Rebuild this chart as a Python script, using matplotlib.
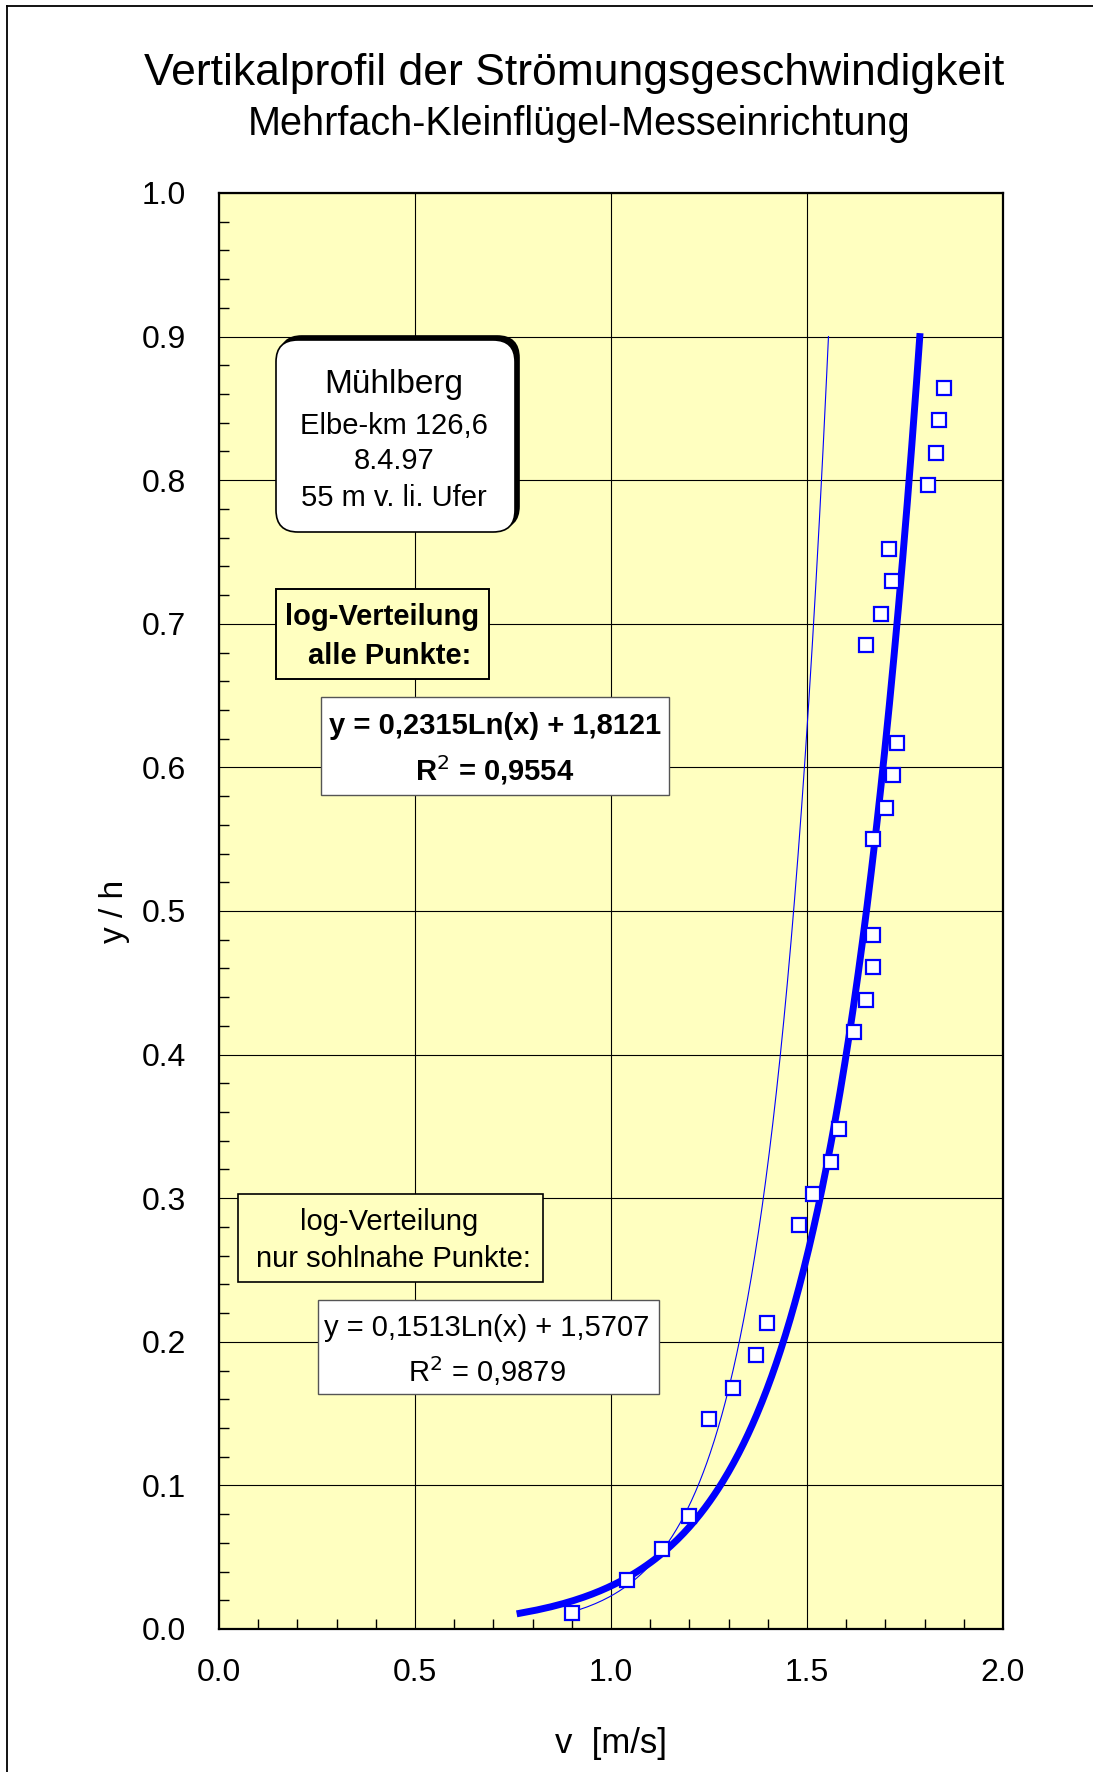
import numpy as np
import matplotlib
import matplotlib.pyplot as plt
from matplotlib.patches import Rectangle, FancyBboxPatch
from matplotlib.lines import Line2D
from matplotlib.ticker import MultipleLocator, FormatStrFormatter

matplotlib.use('Agg')
plt.rcParams['font.family'] = ['Liberation Sans', 'DejaVu Sans']

# measured points: velocity v [m/s] and relative height y/h
v_meas = [0.900, 1.041, 1.129, 1.200, 1.250, 1.310, 1.370, 1.399,
          1.480, 1.516, 1.561, 1.582, 1.620, 1.650, 1.669, 1.669,
          1.669, 1.702, 1.719, 1.730, 1.650, 1.690, 1.718, 1.709,
          1.809, 1.828, 1.838, 1.849]
yh_meas = [0.011, 0.034, 0.056, 0.079, 0.146, 0.168, 0.191, 0.213,
           0.281, 0.303, 0.325, 0.348, 0.416, 0.438, 0.461, 0.483,
           0.550, 0.572, 0.595, 0.617, 0.685, 0.707, 0.730, 0.752,
           0.797, 0.819, 0.842, 0.864]

# log fits as printed in the chart: v = a*ln(y/h) + b
fit_all = (0.2315, 1.8121)
fit_near = (0.1513, 1.5707)
fit_range = (0.011, 0.9)

title = "Vertikalprofil der Strömungsgeschwindigkeit"
subtitle = "Mehrfach-Kleinflügel-Messeinrichtung"
site_lines = ["Mühlberg", "Elbe-km 126,6", "8.4.97", "55 m v. li. Ufer"]

W, H = 1093, 1772
fig = plt.figure(figsize=(W / 100, H / 100), dpi=100)


def fx(px):
    return px / W


def fy(py):
    return 1 - py / H


ax = fig.add_axes([fx(219), fy(1629), fx(1003) - fx(219), (1629 - 193) / H])
ax.set_facecolor('#FFFFC0')
ax.set_xlim(0, 2.0)
ax.set_ylim(0, 1.0)

ax.xaxis.set_major_locator(MultipleLocator(0.5))
ax.xaxis.set_minor_locator(MultipleLocator(0.1))
ax.yaxis.set_major_locator(MultipleLocator(0.1))
ax.yaxis.set_minor_locator(MultipleLocator(0.02))
ax.xaxis.set_major_formatter(FormatStrFormatter('%.1f'))
ax.yaxis.set_major_formatter(FormatStrFormatter('%.1f'))
ax.tick_params(which='major', length=0, labelsize=23)
ax.tick_params(axis='y', which='major', pad=24)
ax.tick_params(axis='x', which='major', pad=21)
ax.tick_params(which='minor', direction='in', length=7, width=1, color='black')
ax.grid(True, which='major', color='black', linewidth=0.8)
ax.set_axisbelow(True)
for s in ax.spines.values():
    s.set_linewidth(1.6)
    s.set_color('black')

yy = np.linspace(fit_range[0], fit_range[1], 400)
ax.plot(fit_all[0] * np.log(yy) + fit_all[1], yy, color='#0000FF', linewidth=5, zorder=3)
ax.plot(fit_near[0] * np.log(yy) + fit_near[1], yy, color='#0000FF', linewidth=0.8, zorder=3)
ax.plot(v_meas, yh_meas, linestyle='none', marker='s', markersize=10.5,
        markerfacecolor='white', markeredgecolor='#0000FF', markeredgewidth=1.6, zorder=4)

ax.set_xlabel("v  [m/s]", fontsize=25, labelpad=28)
ax.set_ylabel("y / h", fontsize=24, labelpad=8)

fig.text(fx(574), fy(74), title, fontsize=32, ha='center', va='center')
fig.text(fx(579), fy(124), subtitle, fontsize=28.5, ha='center', va='center')


def box(x0, y0, x1, y1, face, edge, lw=1.2):
    r = Rectangle((fx(x0), fy(y1)), fx(x1) - fx(x0), fy(y0) - fy(y1),
                  transform=fig.transFigure, facecolor=face, edgecolor=edge,
                  linewidth=lw, zorder=5)
    fig.patches.append(r)


# rounded site box with shadow
for dx, dy, fc in [(4, -4, 'black'), (0, 0, 'white')]:
    p = FancyBboxPatch((fx(276 + dx), fy(532 + dy)), fx(515) - fx(276), fy(340) - fy(532),
                       boxstyle="round,pad=0,rounding_size=0.02",
                       mutation_aspect=W / H,
                       transform=fig.transFigure, facecolor=fc, edgecolor='black',
                       linewidth=1.2, zorder=5)
    fig.patches.append(p)
for txt, py, fs in zip(site_lines, [384, 426, 461, 498], [24, 21, 21, 21]):
    fig.text(fx(394), fy(py), txt, fontsize=fs, ha='center', va='center', zorder=6)

box(276, 589, 489, 679, '#FFFFC0', 'black', 1.4)
fig.text(fx(382), fy(617), "log-Verteilung", fontsize=21, fontweight='bold',
         ha='center', va='center', zorder=6)
fig.text(fx(390), fy(656), "alle Punkte:", fontsize=21, fontweight='bold',
         ha='center', va='center', zorder=6)

box(321, 697, 669, 795, 'white', '#555555', 1.0)
fig.text(fx(495), fy(726), "y = 0,2315Ln(x) + 1,8121", fontsize=21, fontweight='bold',
         ha='center', va='center', zorder=6)
fig.text(fx(495), fy(770), "R$^2$ = 0,9554", fontsize=21, fontweight='bold',
         ha='center', va='center', zorder=6)

box(238, 1194, 543, 1282, '#FFFFC0', 'black', 1.2)
fig.text(fx(389), fy(1222), "log-Verteilung", fontsize=21, ha='center', va='center', zorder=6)
fig.text(fx(393), fy(1259), "nur sohlnahe Punkte:", fontsize=21, ha='center', va='center', zorder=6)

box(318, 1300, 659, 1394, 'white', '#555555', 1.0)
fig.text(fx(487), fy(1328), "y = 0,1513Ln(x) + 1,5707", fontsize=21, ha='center', va='center', zorder=6)
fig.text(fx(487), fy(1371), "R$^2$ = 0,9879", fontsize=21, ha='center', va='center', zorder=6)

# outer frame (top and left edge visible)
fig.lines.append(Line2D([fx(7), 1], [fy(6), fy(6)], transform=fig.transFigure, color='black', linewidth=1.3))
fig.lines.append(Line2D([fx(7), fx(7)], [0, fy(6)], transform=fig.transFigure, color='black', linewidth=1.3))

fig.savefig("out.png", dpi=100)
